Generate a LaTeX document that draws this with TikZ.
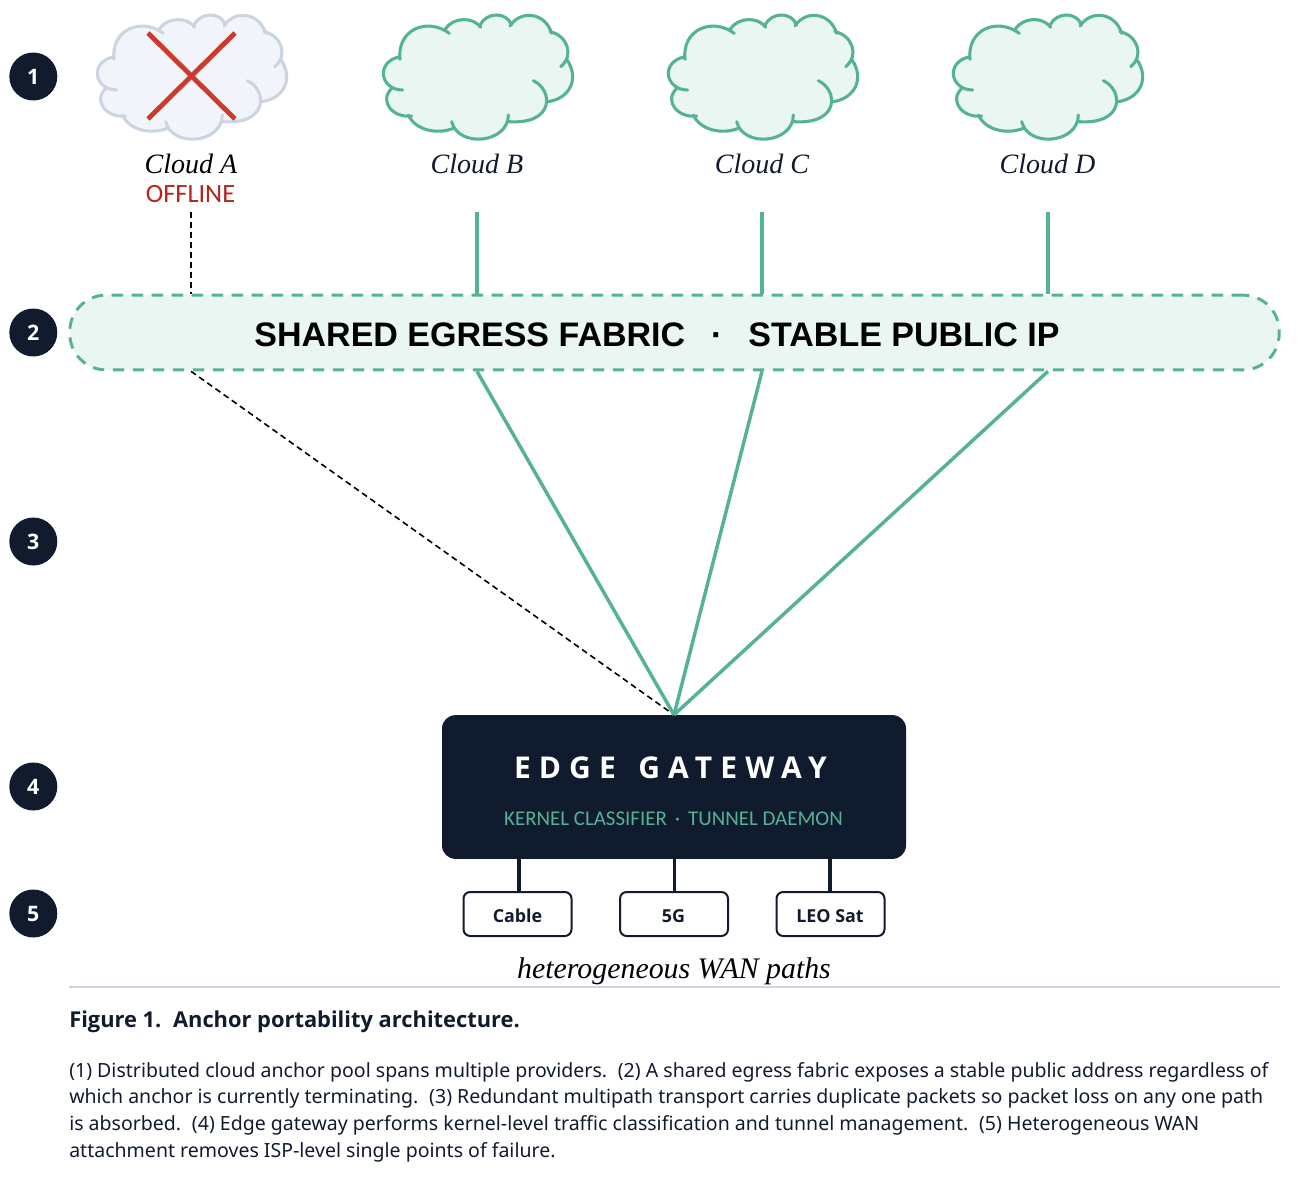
\documentclass[tikz,border=0pt]{standalone}
\usepackage{fontspec}
\setmainfont{Noto Sans}
\newfontfamily\boldf{Open Sans}
\newfontfamily\serifit[ItalicFont=Liberation Serif Italic]{Liberation Serif}
\newfontfamily\arialf{Liberation Sans}
\newfontfamily\edgef[LetterSpace=27]{Open Sans}
\newfontfamily\kernf{Carlito}
\definecolor{navy}{HTML}{111B2E}
\definecolor{teal}{HTML}{55B297}
\definecolor{mint}{HTML}{E9F6F1}
\definecolor{ghost}{HTML}{F1F5FA}
\definecolor{ghostline}{HTML}{CBD5E1}
\definecolor{crossred}{HTML}{CC3A2E}
\definecolor{offred}{HTML}{B3261E}
\newcommand\cloudlobes[3]{%
\begin{scope}[shift={#1},x=0.25pt,y=-0.25pt]
\fill[#2] (90,170)--(225,88)--(330,75)--(420,75)--(540,95)--(590,178)--(535,305)--(480,368)--(415,365)--(330,400)--(250,385)--(125,348)--(65,265)--(98,270)--cycle;
\path[fill=#2,draw=#3,line width=2.3pt,line cap=round,line join=round]
(90,178) .. controls (80,90) and (170,50) .. (238,100)
(225,88) .. controls (250,50) and (310,50) .. (332,82)
(330,75) .. controls (350,35) and (410,35) .. (425,75)
(420,78) .. controls (450,30) and (525,35) .. (545,100)
(540,95) .. controls (590,105) and (615,165) .. (572,200)
(590,178) .. controls (630,235) and (600,295) .. (535,305)
(490,242) .. controls (550,270) and (555,375) .. (415,365)
(415,345) .. controls (415,430) and (265,445) .. (245,365)
(250,385) .. controls (200,405) and (135,390) .. (115,345)
(125,348) .. controls (70,355) and (25,305) .. (65,265)
(98,270) .. controls (30,270) and (15,185) .. (90,170);
\end{scope}}
\tikzset{
  badge/.style={circle,fill=navy,text=white,minimum size=36pt,inner sep=0pt,font=\boldf\fontsize{16}{16}\selectfont\bfseries},
  cloudlabel/.style={anchor=base,inner sep=0pt,text=navy,font=\serifit\itshape\fontsize{21}{21}\selectfont},
  live/.style={draw=teal,line width=2.6pt},
  dead/.style={draw=black,line width=1.2pt,dash pattern=on 4.5pt off 3pt},
  wan/.style={draw=navy,fill=white,line width=1.5pt,rounded corners=5pt,minimum height=33pt,inner sep=0pt,text=navy},
  wantext/.style={anchor=base,inner sep=0pt,text=navy,font=\boldf\fontsize{13.4}{13.4}\selectfont\bfseries},
  link/.style={draw=navy,line width=2.4pt},
  captext/.style={anchor=base west,inner sep=0pt,text=navy,font=\fontsize{14.65}{20}\selectfont},
}
\begin{document}
\begin{tikzpicture}[x=0.75pt,y=-0.75pt]
\useasboundingbox (0,0) rectangle (1300,1192);
\node[badge] (b1) at (33.3,76.5) {1};
\node[badge] (b2) at (33.3,332.5) {2};
\node[badge] (b3) at (33.3,541.5) {3};
\node[badge] (b4) at (33.3,786.5) {4};
\node[badge] (b5) at (33.3,913.5) {5};

\cloudlobes{(84,0)}{ghost}{ghostline}
\cloudlobes{(370,0)}{mint}{teal}
\cloudlobes{(655,0)}{mint}{teal}
\cloudlobes{(940,0)}{mint}{teal}
\draw[crossred,line width=3.6pt] (148,33) -- (235,119);
\draw[crossred,line width=3.6pt] (235,33) -- (148,119);

\node[cloudlabel,text=black] (la) at (191,173) {Cloud A};
\node[cloudlabel] (lb) at (477,173) {Cloud B};
\node[cloudlabel] (lc) at (762,173) {Cloud C};
\node[cloudlabel] (ld) at (1047.5,173) {Cloud D};
\node[anchor=base,inner sep=0pt,text=offred,font=\kernf\fontsize{19.8}{19.8}\selectfont] (off) at (190.5,202.5) {OFFLINE};

\coordinate (ca) at (191,212);
\coordinate (cb) at (477,212);
\coordinate (cc) at (762,212);
\coordinate (cd) at (1048,212);

\node[draw=teal,fill=mint,line width=2.2pt,dash pattern=on 8.6pt off 6.4pt,rounded corners=27pt,minimum width=907pt,minimum height=56pt,inner sep=0pt] (fabric) at (674.5,332.5) {};
\node[anchor=base,inner sep=0pt,text=black,font=\arialf\bfseries\fontsize{25.5}{25.5}\selectfont] (ftext) at (657,346) {SHARED EGRESS FABRIC\hspace{19.5pt}·\hspace{19.5pt}STABLE PUBLIC IP};

\node[fill=navy,rounded corners=10pt,minimum width=348pt,minimum height=107.8pt,inner sep=0pt] (gw) at (674,787) {};
\node[anchor=base,inner sep=0pt,text=white,font=\edgef\bfseries\fontsize{22.5}{22.5}\selectfont] (gt) at (670.5,778) {EDGE\hspace{5pt} GATEWAY};
\node[anchor=base,inner sep=0pt,text=teal,font=\kernf\fontsize{15.7}{15.7}\selectfont] (gs) at (673.5,825) {KERNEL CLASSIFIER\hspace{6pt}·\hspace{6pt}TUNNEL DAEMON};

\draw[dead] (ca) -- (ca |- fabric.north);
\draw[live] (cb) -- (cb |- fabric.north);
\draw[live] (cc) -- (cc |- fabric.north);
\draw[live] (cd) -- (cd |- fabric.north);
\draw[dead] (ca |- fabric.south) -- (gw.north);
\draw[live] (cb |- fabric.south) -- (gw.north);
\draw[live] (cc |- fabric.south) -- (gw.north);
\draw[live] (cd |- fabric.south) -- (gw.north);

\coordinate (j1) at (519,858);
\coordinate (j2) at (674.5,858);
\coordinate (j3) at (830,858);
\node[wan,minimum width=81pt] (cable) at (517.5,914) {};
\node[wan,minimum width=81pt] (fiveg) at (674,914) {};
\node[wan,minimum width=81pt] (leo) at (830.5,914) {};
\draw[link] (j1) -- (j1 |- cable.north);
\draw[link] (j2) -- (j2 |- fiveg.north);
\draw[link] (j3) -- (j3 |- leo.north);
\node[wantext] (t1) at (517.5,922) {Cable};
\node[wantext] (t2) at (673.5,922) {5G};
\node[wantext] (t3) at (830,922) {LEO Sat};
\node[cloudlabel,text=black,font=\serifit\itshape\fontsize{22.4}{22.4}\selectfont] (het) at (674,978) {heterogeneous WAN paths};

\coordinate (r1) at (69,987);
\coordinate (r2) at (1280,987);
\draw[ghostline,line width=.8pt] (r1) -- (r2);
\node[anchor=base west,inner sep=0pt,text=navy,font=\boldf\fontsize{16.4}{16.4}\selectfont\bfseries] (fig) at (69,1027) {Figure 1.\hspace{3pt} Anchor portability architecture.};
\node[captext] (p1) at (69,1077) {(1) Distributed cloud anchor pool spans multiple providers.\hspace{3pt} (2) A shared egress fabric exposes a stable public address regardless of};
\node[captext] (p2) at (69,1103) {which anchor is currently terminating.\hspace{3pt} (3) Redundant multipath transport carries duplicate packets so packet loss on any one path};
\node[captext] (p3) at (69,1130) {is absorbed.\hspace{3pt} (4) Edge gateway performs kernel-level traffic classification and tunnel management.\hspace{3pt} (5) Heterogeneous WAN};
\node[captext] (p4) at (69,1157) {attachment removes ISP-level single points of failure.};
\end{tikzpicture}
\end{document}
